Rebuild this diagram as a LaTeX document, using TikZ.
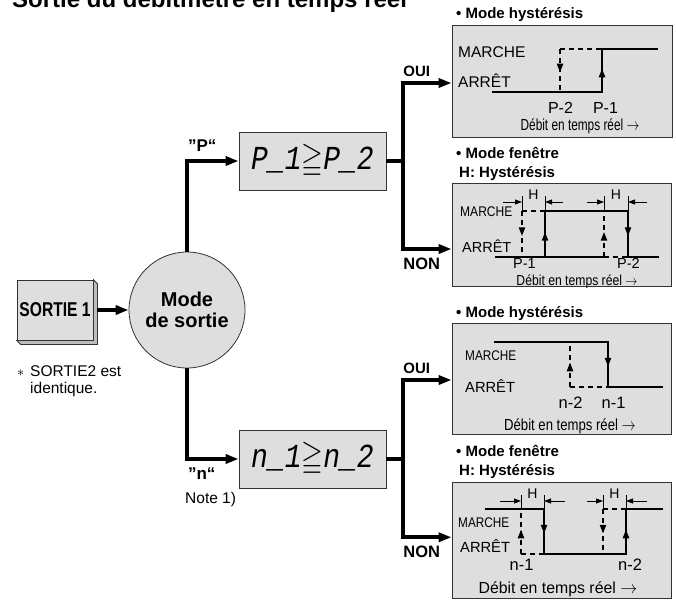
\documentclass[tikz,border=0pt]{standalone}
\usepackage{amssymb}
\usepackage{fontspec}
\setmainfont{Liberation Sans}
\newfontfamily\segfont{Liberation Mono}
\usetikzlibrary{arrows.meta,positioning,decorations.markings}

\definecolor{panelgray}{gray}{0.87}
\newcommand{\fs}[1]{\fontsize{#1}{#1}\selectfont}
\newcommand{\sq}[2]{\scalebox{#1}[1]{#2}}
\newcommand{\seg}[1]{\scalebox{1}[1.2]{\segfont\itshape\fs{28}#1}}
\newcommand{\debit}[1]{\sq{#1}{Débit en temps réel $\rightarrow$}}

\begin{document}
\begin{tikzpicture}[x=1pt,y=-1pt,>={Triangle[length=13pt,width=9pt]},
 flow/.style={line width=4pt},
 panel/.style={draw=black!80,fill=panelgray,line width=0.8pt},
 sig/.style={line width=2.2pt,line cap=rect},
 sigd/.style={line width=2.2pt,dash pattern=on 5pt off 4pt},
 mid/.style={postaction={decorate},decoration={markings,
  mark=at position 0.55 with {\arrow{Triangle[length=9pt,width=6pt]}}}},
 dimarr/.style={line width=0.8pt,-{Triangle[length=7pt,width=5pt]}},
 dimtick/.style={line width=0.8pt},
 txt/.style={inner sep=0pt,anchor=base west,font=\fs{#1}},
 ctxt/.style={inner sep=0pt,anchor=base,font=\fs{#1}},
 bfont/.style={font=\bfseries\fs{#1}},
 lab/.style={inner sep=4pt,bfont=#1},
 hdr/.style={inner sep=0pt,anchor=north west,align=left,
  font=\bfseries\fontsize{15}{19}\selectfont}]
 \useasboundingbox (0,0) rectangle (676,600);
 \clip (0,0) rectangle (676,600);

 \node[txt=24,bfont=24] (title) at (12,7) {Sortie du débitmètre en temps réel};

 \node[panel,minimum width=76pt,minimum height=60pt,inner sep=0pt,bfont=20]
  (sortie) at (55,310) {\sq{0.78}{SORTIE 1}};
 \draw[panel,fill=panelgray!85!black] (sortie.north east) -- ++(4,4)
  -- ([shift={(4,4)}]sortie.south east) -- ([shift={(4,4)}]sortie.south west)
  -- (sortie.south west) -- (sortie.south east) -- cycle;
 \node[panel,circle,minimum size=116pt,inner sep=0pt,align=center,
  font=\bfseries\fontsize{20}{21}\selectfont] (mode) at (187,310) {Mode\\de sortie};
 \node[inner sep=0pt,anchor=north west,align=left,font=\fontsize{15.5}{17}\selectfont]
  (same) at (17,365) {\makebox[13pt][l]{$\ast$}SORTIE2 est\\\hspace*{13pt}identique.};

 \node[panel,minimum width=147pt,minimum height=58pt] (pcmp) at (312.5,161) {\seg{P\_1$\geqq$P\_2}};
 \node[panel,minimum width=147pt,minimum height=58pt] (ncmp) at (312.5,459) {\seg{n\_1$\geqq$n\_2}};

 \node[panel,minimum width=220pt,minimum height=112pt] (phys) at (562,81) {};
 \node[panel,minimum width=219pt,minimum height=103pt] (pwin) at (561.5,234.5) {};
 \node[panel,minimum width=219pt,minimum height=111pt] (nhys) at (561.5,378.5) {};
 \node[panel,minimum width=219pt,minimum height=116pt] (nwin) at (561.5,540.25) {};

 \draw[flow,->] ([xshift=4pt]sortie.east) -- (mode.west);
 \draw[flow,->] (mode.north) |- node[pos=0.5,above right,xshift=-5pt,yshift=4pt,lab=17] (pq) {”P“} (pcmp.west);
 \draw[flow,->] (mode.south) |- node[pos=0.5,below right,xshift=-5pt,yshift=-3pt,lab=17] (nq) {”n“} (ncmp.west);
 \node[txt=15.5,below right=6pt and 3pt of nq.south west] (note) {Note 1)};

 \draw[flow] (pcmp.east) -- ++(17,0) coordinate (pj);
 \draw[flow,->] (pj) |- node[pos=0.5,above right,xshift=-6pt,lab=15] (poui) {OUI} ([yshift=-2pt]phys.west);
 \draw[flow,->] (pj) |- node[pos=0.5,below right,xshift=-6pt,yshift=-3pt,lab=16.5] (pnon) {NON} ([yshift=-14.5pt]pwin.west);
 \draw[flow] (ncmp.east) -- ++(17,0) coordinate (nj);
 \draw[flow,->] (nj) |- node[pos=0.5,above right,xshift=-6pt,lab=15] (noui) {OUI} ([yshift=-1.5pt]nhys.west);
 \draw[flow,->] (nj) |- node[pos=0.5,below right,xshift=-6pt,yshift=-3pt,lab=16.5] (nnon) {NON} ([yshift=3pt]nwin.west);

 \node[hdr] (physh) at (456,7) {• Mode hystérésis};
 \node[txt=15.5] (m1) at (458,57) {MARCHE};
 \node[txt=15.5] (a1) at (458,87) {ARRÊT};
 \draw[sig] (493,92) -- (602,92);
 \draw[sig,mid] (602,92) -- (602,49);
 \draw[sig] (602,49) -- (657,49);
 \draw[sigd] (560,49) -- (602,49);
 \draw[sigd,mid] (560,49) -- (560,92);
 \node[ctxt=16] (p2a) at (560.5,113) {P-2};
 \node[ctxt=16] (p1a) at (605.5,113) {P-1};
 \node[ctxt=16] (d1) at (580,130) {\debit{0.74}};

 \node[hdr] (pwinh) at (456,147) {• Mode fenêtre\\\hspace*{3pt}H: Hystérésis};
 \node[txt=14] (m2) at (460,216) {\sq{0.86}{MARCHE}};
 \node[txt=14.5] (a2) at (462,252) {ARRÊT};
 \draw[sig] (496,257) -- (604,257);
 \draw[sigd] (604,257) -- (628,257);
 \draw[sig] (628,257) -- (658,257);
 \draw[sigd] (522,211) -- (545,211);
 \draw[sig] (545,211) -- (628,211);
 \draw[sigd,mid] (522,211) -- (522,257);
 \draw[sig,mid] (545,257) -- (545,211);
 \draw[sigd,mid] (604,257) -- (604,211);
 \draw[sig,mid] (628,211) -- (628,257);
 \draw[dimtick] (522,196) -- (522,211) (545,196) -- (545,211) (604,196) -- (604,211) (628,196) -- (628,211);
 \draw[dimarr] (503,202) -- (522,202);
 \draw[dimarr] (563,202) -- (545,202);
 \draw[dimarr] (587,202) -- (604,202);
 \draw[dimarr] (647,202) -- (628,202);
 \node[ctxt=14] (h1) at (533.5,199) {H};
 \node[ctxt=14] (h2) at (616,199) {H};
 \node[ctxt=14.5] (p1b) at (524.5,268.5) {P-1};
 \node[ctxt=14.5] (p2b) at (628.5,268.5) {P-2};
 \node[ctxt=14.5] (d2) at (577,285) {\debit{0.84}};

 \node[hdr] (nhysh) at (456,306) {• Mode hystérésis};
 \node[txt=14] (m3) at (465,360) {\sq{0.84}{MARCHE}};
 \node[txt=14.7] (a3) at (465,392) {ARRÊT};
 \draw[sig] (495,342) -- (608,342);
 \draw[sig,mid] (608,342) -- (608,387);
 \draw[sig] (608,387) -- (662,387);
 \draw[sigd] (570,387) -- (608,387);
 \draw[sigd,mid] (570,387) -- (570,342);
 \node[ctxt=16.5] (n2a) at (570.5,408) {n-2};
 \node[ctxt=16.5] (n1a) at (613.5,408) {n-1};
 \node[ctxt=16] (d3) at (570,430) {\debit{0.82}};

 \node[hdr] (nwinh) at (456,445) {• Mode fenêtre\\\hspace*{3pt}H: Hystérésis};
 \node[txt=14] (m4) at (458,527) {\sq{0.84}{MARCHE}};
 \node[txt=14.7] (a4) at (460,552) {ARRÊT};
 \draw[sig] (486,509) -- (544,509);
 \draw[sigd] (603,509) -- (626,509);
 \draw[sig] (626,509) -- (662,509);
 \draw[sigd] (521,554) -- (544,554);
 \draw[sig] (544,554) -- (626,554);
 \draw[sigd,mid] (521,554) -- (521,509);
 \draw[sig,mid] (544,509) -- (544,554);
 \draw[sigd,mid] (603,509) -- (603,554);
 \draw[sig,mid] (626,554) -- (626,509);
 \draw[dimtick] (521,495) -- (521,509) (544,495) -- (544,509) (603,495) -- (603,509) (626,495) -- (626,509);
 \draw[dimarr] (500,501) -- (521,501);
 \draw[dimarr] (565,501) -- (544,501);
 \draw[dimarr] (587,501) -- (603,501);
 \draw[dimarr] (647,501) -- (626,501);
 \node[ctxt=14] (h3) at (532.5,498) {H};
 \node[ctxt=14] (h4) at (614.5,498) {H};
 \node[ctxt=16.5] (n1b) at (521.5,570) {n-1};
 \node[ctxt=16.5] (n2b) at (630,570) {n-2};
 \node[ctxt=16] (d4) at (558,593) {\debit{0.99}};
\end{tikzpicture}
\end{document}
